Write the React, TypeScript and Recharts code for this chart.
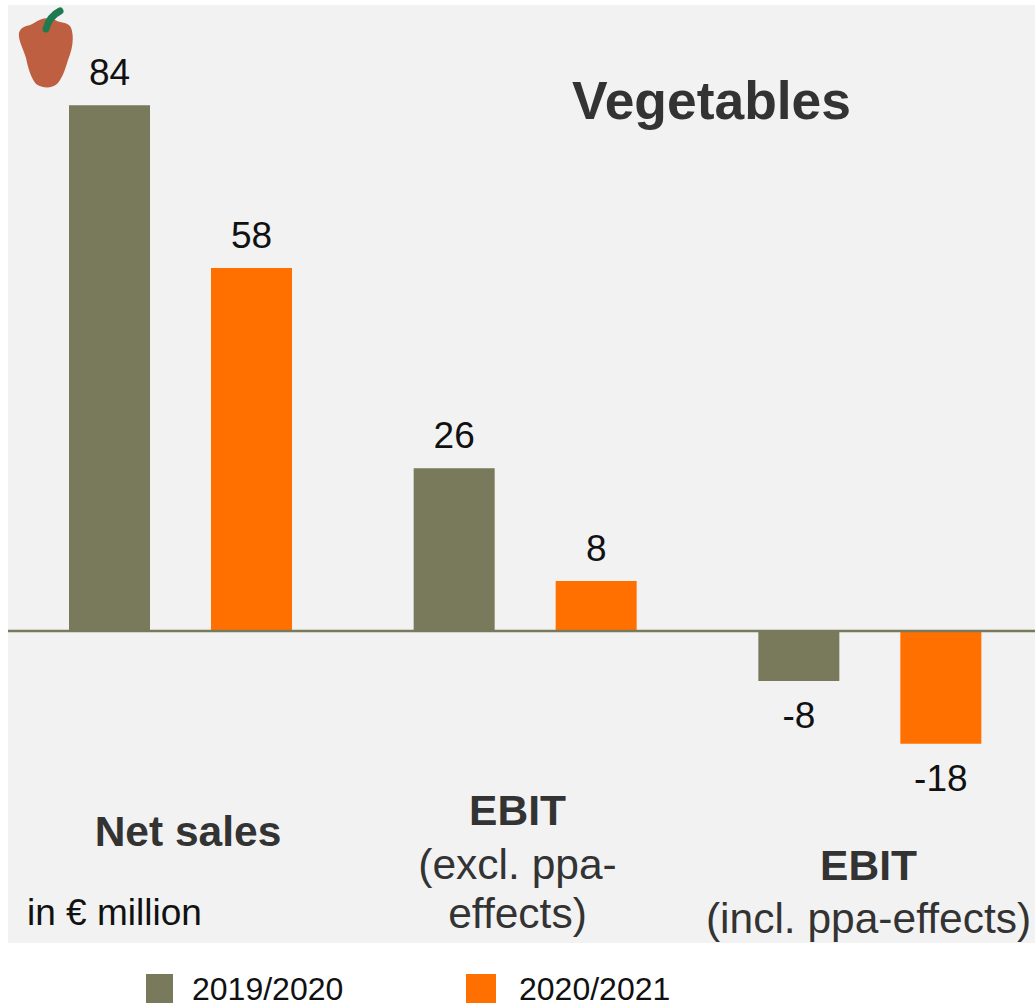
import React from 'react';
import {
  BarChart,
  Bar,
  XAxis,
  YAxis,
  Legend,
  LabelList,
  ReferenceLine,
} from 'recharts';

const categories = ['Net sales', 'EBIT excl', 'EBIT incl'];
const sales2019 = [84, 26, -8];
const sales2020 = [58, 8, -18];
const seriesNames = ['2019/2020', '2020/2021'];

const data = categories.map((name, i) => ({
  name,
  prev: sales2019[i],
  curr: sales2020[i],
}));

const OLIVE = '#79795b';
const ORANGE = '#ff7000';
const FONT = '"Liberation Sans", Arial, sans-serif';

// category captions sit at different heights under each group
const captions: Record<string, { x: number; lines: { text: string; y: number; bold?: boolean }[] }> = {
  'Net sales': { x: 188, lines: [{ text: 'Net sales', y: 846, bold: true }] },
  'EBIT excl': {
    x: 517.5,
    lines: [
      { text: 'EBIT', y: 825, bold: true },
      { text: '(excl. ppa-', y: 879 },
      { text: 'effects)', y: 928 },
    ],
  },
  'EBIT incl': {
    x: 868.5,
    lines: [
      { text: 'EBIT', y: 880, bold: true },
      { text: '(incl. ppa-effects)', y: 933 },
    ],
  },
};

const renderCaption = ({ payload }: any) => {
  const caption = captions[payload.value];
  if (!caption) return <g />;
  return (
    <g>
      {caption.lines.map((line) => (
        <text
          key={line.text}
          x={caption.x}
          y={line.y}
          textAnchor="middle"
          fontFamily={FONT}
          fontSize={42.5}
          fontWeight={line.bold ? 700 : 400}
          fill="#333333"
        >
          {line.text}
        </text>
      ))}
    </g>
  );
};

const ValueLabel = ({ x, y, width, height, value }: any) => {
  const top = Math.min(y, y + height);
  const bottom = Math.max(y, y + height);
  return (
    <text
      x={x + width / 2}
      y={value >= 0 ? top - 20 : bottom + 47}
      textAnchor="middle"
      fontFamily={FONT}
      fontSize={37}
      fill="#111111"
    >
      {value}
    </text>
  );
};

const YearLegend = () => {
  const items = [
    { label: seriesNames[0], color: OLIVE, left: 146, width: 27, textLeft: 192 },
    { label: seriesNames[1], color: ORANGE, left: 466, width: 30, textLeft: 519 },
  ];
  return (
    <div style={{ position: 'relative', height: 29, fontFamily: FONT, fontSize: 32, color: '#111' }}>
      {items.map((item) => (
        <React.Fragment key={item.label}>
          <div
            style={{
              position: 'absolute',
              left: item.left,
              top: 0,
              width: item.width,
              height: 29,
              background: item.color,
            }}
          />
          <div style={{ position: 'absolute', left: item.textLeft, top: 1, lineHeight: '28px' }}>
            {item.label}
          </div>
        </React.Fragment>
      ))}
    </div>
  );
};

// small bell pepper in the panel's top left corner
const Pepper = () => (
  <svg
    width={70}
    height={95}
    style={{ position: 'absolute', left: 10, top: 0, filter: 'blur(0.6px)' }}
  >
    <path
      d="M24 23 C32 17 40 17 47 21 C55 24 60 22 62 31 C64 40 62 50 58 60 C55 70 52 79 47 84 C41 89 32 88 26 84 C21 78 18 68 16 58 C13 48 8 40 9 33 C11 25 18 27 24 23 Z"
      fill="#bf5f42"
    />
    <path
      d="M36 29 C38 21 42 15 50 11"
      fill="none"
      stroke="#1f7a50"
      strokeWidth={7}
      strokeLinecap="round"
    />
  </svg>
);

export default function App() {
  return (
    <div
      style={{
        position: 'absolute',
        left: 0,
        top: 0,
        width: 1035,
        height: 1003,
        overflow: 'hidden',
        background: '#fff',
        fontFamily: FONT,
      }}
    >
      <div
        style={{
          position: 'absolute',
          left: 8,
          top: 5,
          width: 1027,
          height: 938,
          background: '#f2f2f2',
        }}
      />
      <div style={{ position: 'absolute', left: 0, top: 0 }}>
        <BarChart
          width={1042}
          height={1003}
          data={data}
          barSize={81}
          barGap={61}
          margin={{ top: 5, right: 0, bottom: 29, left: 8 }}
        >
          <XAxis
            dataKey="name"
            axisLine={false}
            tickLine={false}
            height={1}
            interval={0}
            tick={renderCaption}
          />
          <YAxis hide domain={[-50, 100]} />
          <Bar dataKey="prev" name={seriesNames[0]} fill={OLIVE} isAnimationActive={false}>
            <LabelList dataKey="prev" content={<ValueLabel />} />
          </Bar>
          <Bar dataKey="curr" name={seriesNames[1]} fill={ORANGE} isAnimationActive={false}>
            <LabelList dataKey="curr" content={<ValueLabel />} />
          </Bar>
          <ReferenceLine y={0} stroke={OLIVE} strokeWidth={2.5} />
          <Legend
            content={<YearLegend />}
            wrapperStyle={{ left: 0, bottom: 0, width: 1035, height: 29 }}
          />
        </BarChart>
      </div>
      <Pepper />
      <div
        style={{
          position: 'absolute',
          left: 572,
          top: 71,
          fontSize: 53.4,
          fontWeight: 700,
          lineHeight: '60px',
          color: '#333',
        }}
      >
        Vegetables
      </div>
      <div
        style={{
          position: 'absolute',
          left: 27,
          top: 892,
          fontSize: 37,
          lineHeight: '42px',
          color: '#111',
        }}
      >
        in € million
      </div>
    </div>
  );
}
